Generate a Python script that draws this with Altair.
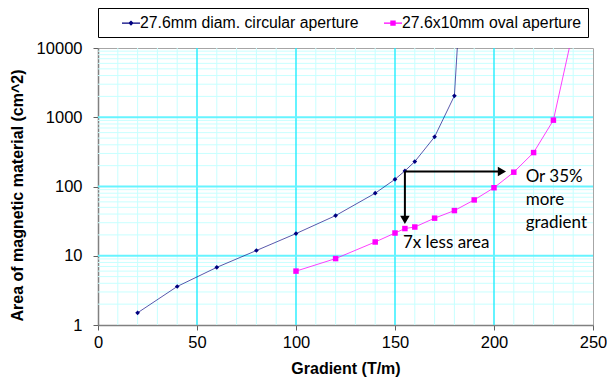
import altair as alt
import pandas as pd

# ---- data ----
series_names = ["27.6mm diam. circular aperture", "27.6x10mm oval aperture"]

circ_x = [20, 40, 60, 80, 100, 120, 140, 150, 155, 160, 170, 180, 182]
circ_y = [1.5, 3.6, 6.8, 11.9, 20.9, 38, 80, 127, 168, 229, 521, 2040, 18000]

oval_x = [100, 120, 140, 150, 155, 160, 170, 180, 190, 200, 210, 220, 230, 240]
oval_y = [6.0, 9.1, 15.8, 21.3, 24.7, 26.0, 34.9, 44.9, 64, 96, 161, 309, 908, 18000]

x_ticks = [0, 50, 100, 150, 200, 250]
y_ticks = [1, 10, 100, 1000, 10000]

x_minor = [v for v in range(10, 250, 10) if v % 50 != 0]
x_major = [50, 100, 150, 200]
y_minor = [m * 10 ** d for d in range(4) for m in range(2, 10)]
y_major = [10, 100, 1000]

# annotations (data coordinates)
arrow_start = (155, 165)
arrow_h_end_x = 204
arrow_v_end_y = 33
ann_text = ["Or 35%", "more", "gradient", "7x less area"]
ann_x = [216, 216, 216, 154]
ann_y = [115, 54, 25, 12.8]

AXIS_FONT = "Liberation Sans"
NAVY = "#000080"
MAGENTA = "#FF00FF"

x_scale = alt.Scale(domain=[0, 250], nice=False, zero=False)
y_scale = alt.Scale(type="log", domain=[1, 10000], nice=False)

x_axis = alt.Axis(title="Gradient (T/m)", values=x_ticks, grid=False, labelFlush=False,
                  labelFont=AXIS_FONT, labelFontSize=16.5, labelColor="black",
                  titleFont=AXIS_FONT, titleFontSize=16, titleFontWeight="bold",
                  titleColor="black", domainColor="#808080", domainWidth=1.5,
                  tickColor="#606060", tickSize=5, labelPadding=4, titlePadding=10)
y_axis = alt.Axis(title="Area of magnetic material (cm^2)", values=y_ticks, format="d",
                  grid=False, labelFlush=False, labelFont=AXIS_FONT, labelFontSize=16.5,
                  labelColor="black", titleFont=AXIS_FONT, titleFontSize=16,
                  titleFontWeight="bold", titleColor="black", domainColor="#808080",
                  domainWidth=1.5, tickColor="#606060", tickSize=5, labelPadding=11,
                  titlePadding=11, titleY=147)


def xe(field):
    return alt.X(field, type="quantitative", scale=x_scale, axis=x_axis)


def ye(field):
    return alt.Y(field, type="quantitative", scale=y_scale, axis=y_axis)


df_c = pd.DataFrame({"x": circ_x, "y": circ_y, "s": series_names[0]})
df_o = pd.DataFrame({"x": oval_x, "y": oval_y, "s": series_names[1]})
df_all = pd.concat([df_c, df_o], ignore_index=True)

# grid
g_xminor = alt.Chart(pd.DataFrame({"gx": x_minor})).mark_rule(
    color="#C8FFFF", strokeWidth=1).encode(x=xe("gx"))
g_yminor = alt.Chart(pd.DataFrame({"gy": y_minor})).mark_rule(
    color="#C8FFFF", strokeWidth=1).encode(y=ye("gy"))
g_xmajor = alt.Chart(pd.DataFrame({"gx": x_major})).mark_rule(
    color="#22EEFF", strokeWidth=1.4).encode(x=xe("gx"))
g_ymajor = alt.Chart(pd.DataFrame({"gy": y_major})).mark_rule(
    color="#66F4FF", strokeWidth=1.8).encode(y=ye("gy"))

# series
line_c = alt.Chart(df_c).mark_line(color=NAVY, strokeWidth=1, opacity=0.65, clip=True).encode(
    x=xe("x"), y=ye("y"))
line_o = alt.Chart(df_o).mark_line(color=MAGENTA, strokeWidth=1, opacity=0.75, clip=True).encode(
    x=xe("x"), y=ye("y"))
pts_c = alt.Chart(df_c).mark_point(shape="diamond", filled=True, size=22, color=NAVY,
                                   opacity=1, clip=True).encode(x=xe("x"), y=ye("y"))
pts_o = alt.Chart(df_o).mark_point(shape="square", filled=True, size=30, color=MAGENTA,
                                   opacity=1, clip=True).encode(x=xe("x"), y=ye("y"))

# arrows
arr_df = pd.DataFrame({
    "x1": [arrow_start[0], arrow_start[0]],
    "x2": [arrow_h_end_x, arrow_start[0]],
    "y1": [arrow_start[1], arrow_start[1]],
    "y2": [arrow_start[1], arrow_v_end_y],
})
arrows = alt.Chart(arr_df).mark_rule(color="black", strokeWidth=2).encode(
    x=xe("x1"), x2="x2", y=ye("y1"), y2="y2")
head_h = alt.Chart(pd.DataFrame({"x": [arrow_h_end_x], "y": [arrow_start[1]]})).mark_point(
    shape="triangle-right", filled=True, color="black", size=90, opacity=1).encode(
    x=xe("x"), y=ye("y"))
head_v = alt.Chart(pd.DataFrame({"x": [arrow_start[0]], "y": [arrow_v_end_y]})).mark_point(
    shape="triangle-down", filled=True, color="black", size=90, opacity=1).encode(
    x=xe("x"), y=ye("y"))

texts = alt.Chart(pd.DataFrame({"t": ann_text, "x": ann_x, "y": ann_y})).mark_text(
    font="Lato", fontSize=17, align="left", baseline="alphabetic", color="black").encode(
    x=xe("x"), y=ye("y"), text="t")

# legend (symbols: short line with marker)
diamond_line = "M-1,-0.06L1,-0.06L1,0.06L-1,0.06Z M0,-0.3L0.3,0L0,0.3L-0.3,0Z"
square_line = "M-1,-0.06L1,-0.06L1,0.06L-1,0.06Z M-0.3,-0.3L0.3,-0.3L0.3,0.3L-0.3,0.3Z"

legend_spec = dict(
    title=None, orient="none", legendX=0, legendY=-40,
    direction="horizontal", strokeColor="black", fillColor="white",
    padding=6, symbolSize=324, symbolStrokeWidth=0,
    symbolOffset=18, labelOffset=0, columnPadding=7,
    labelFont=AXIS_FONT, labelFontSize=15.8, labelColor="black",
    labelLimit=400,
    labelExpr="datum.label == '27.6x10mm oval aperture' ? datum.label + '\u00a0\u00a0\u00a0' : datum.label",
)

legend_layer = alt.Chart(df_all).transform_filter("false").mark_point(
    filled=True, opacity=1).encode(
    x=xe("x"), y=ye("y"),
    color=alt.Color("s:N", scale=alt.Scale(domain=series_names, range=[NAVY, MAGENTA]),
                    legend=alt.Legend(**legend_spec)),
    shape=alt.Shape("s:N", scale=alt.Scale(domain=series_names,
                                           range=[diamond_line, square_line]),
                    legend=alt.Legend(**legend_spec)),
)

chart = alt.layer(
    g_xminor, g_yminor, g_xmajor, g_ymajor,
    line_c, line_o, pts_c, pts_o,
    arrows, head_h, head_v, texts, legend_layer,
).properties(
    width=495, height=277,
    autosize=alt.AutoSizeParams(type="none"),
    padding={"left": 90, "top": 40, "right": 14, "bottom": 56},
    background="white",
).configure_view(stroke="#A6A6A6", strokeWidth=1)

chart.save("out.html", embed_options={"renderer": "svg", "actions": False})
